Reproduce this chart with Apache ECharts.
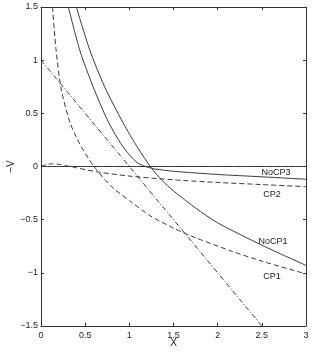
<!DOCTYPE html>
<html>
<head>
<meta charset="utf-8">
<script src="https://cdn.jsdelivr.net/npm/echarts@6/dist/echarts.min.js"></script>
<style>html,body{margin:0;padding:0;background:#fff;}#c{width:312px;height:356px;}</style>
</head>
<body>
<div id="c"></div>
<script>
// Data
const noCP1 = [[0.40,1.5],[0.55,1.1],[0.72,0.75],[0.93,0.41],[1.1,0.17],[1.25,-0.015],[1.37,-0.13],[1.5,-0.23],[1.75,-0.39],[2.0,-0.53],[2.5,-0.74],[3,-0.93]];
const noCP3 = [[0.31,1.5],[0.44,1.09],[0.59,0.75],[0.75,0.44],[0.9,0.22],[1.0,0.11],[1.1,0.03],[1.2,-0.005],[1.25,-0.015],[1.3,-0.025],[1.5,-0.045],[2.0,-0.075],[2.5,-0.097],[3,-0.12]];
const cp1 = [[0.13,1.5],[0.17,1.1],[0.23,0.72],[0.33,0.41],[0.44,0.21],[0.6,0],[0.8,-0.19],[1.0,-0.32],[1.23,-0.46],[1.5,-0.58],[1.75,-0.67],[2.17,-0.80],[2.5,-0.89],[3,-1.01]];
const cp2 = [[0,0],[0.06,0.018],[0.12,0.025],[0.2,0.02],[0.3,0.005],[0.4,-0.012],[0.63,-0.05],[1.0,-0.09],[1.5,-0.125],[2.0,-0.15],[2.5,-0.17],[3,-0.19]];
const dashDot = [[0,1],[2.5,-1.5]];
const zeroLine = [[0,0],[3,0]];
const seriesLabels = [
  {text:'NoCP3', x:276, y:173},
  {text:'CP2', x:272, y:195},
  {text:'NoCP1', x:273, y:242},
  {text:'CP1', x:272, y:277}
];
const xTickInterval = 0.5, yTickInterval = 0.5;

const chart = echarts.init(document.getElementById('c'), null, {renderer:'canvas'});
const FONT = 'Liberation Sans, Arial, Helvetica, sans-serif';
const lineCol = '#3a3a3a';
const axisCol = '#333';
function mk(data, type, w){
  return {type:'line', data:data, showSymbol:false, symbol:'none', smooth:0.25,
    clip:true, silent:true, lineStyle:{color:lineCol, width:w||1, type:type}};
}
const baseAxis = {
  axisLine:{show:true, onZero:false, lineStyle:{color:axisCol, width:1}},
  axisTick:{show:true, inside:true, length:3, lineStyle:{color:axisCol}},
  splitLine:{show:false},
  axisLabel:{fontFamily:FONT, fontSize:9, color:'#222'}
};
chart.setOption({
  animation:false,
  backgroundColor:'#fff',
  grid:{left:41, right:6, top:7, bottom:30, containLabel:false, outerBoundsMode:'none'},
  xAxis:[
    Object.assign({}, baseAxis, {type:'value', min:0, max:3, interval:xTickInterval, position:'bottom',
      name:'X', nameLocation:'middle', nameGap:12, nameMoveOverlap:false,
      nameTextStyle:{fontFamily:FONT, fontSize:10, color:'#222', verticalAlign:'top'},
      axisLabel:{fontFamily:FONT, fontSize:9, color:'#222', margin:5}}),
    Object.assign({}, baseAxis, {type:'value', min:0, max:3, interval:xTickInterval, position:'top', axisLabel:{show:false}})
  ],
  yAxis:[
    Object.assign({}, baseAxis, {type:'value', min:-1.5, max:1.5, interval:yTickInterval, position:'left',
      name:'\u2212V', nameLocation:'middle', nameGap:25, nameRotate:90, nameMoveOverlap:false,
      nameTextStyle:{fontFamily:FONT, fontSize:10, color:'#222'},
      axisLabel:{fontFamily:FONT, fontSize:9, color:'#222', margin:3, formatter:v=>String(v).replace('-','\u2212')}}),
    Object.assign({}, baseAxis, {type:'value', min:-1.5, max:1.5, interval:yTickInterval, position:'right', axisLabel:{show:false}})
  ],
  series:[
    mk(zeroLine,'solid'),
    mk(noCP1,'solid'),
    mk(noCP3,'solid'),
    mk(cp1,[5,3]),
    mk(cp2,[5,3]),
    mk(dashDot,[5,2,1,2])
  ],
  graphic: seriesLabels.map(l=>({type:'text', x:l.x, y:l.y, silent:true,
    style:{text:l.text, fontFamily:FONT, fontSize:9, fill:'#222', align:'center', verticalAlign:'middle'}}))
});
</script>
</body>
</html>
